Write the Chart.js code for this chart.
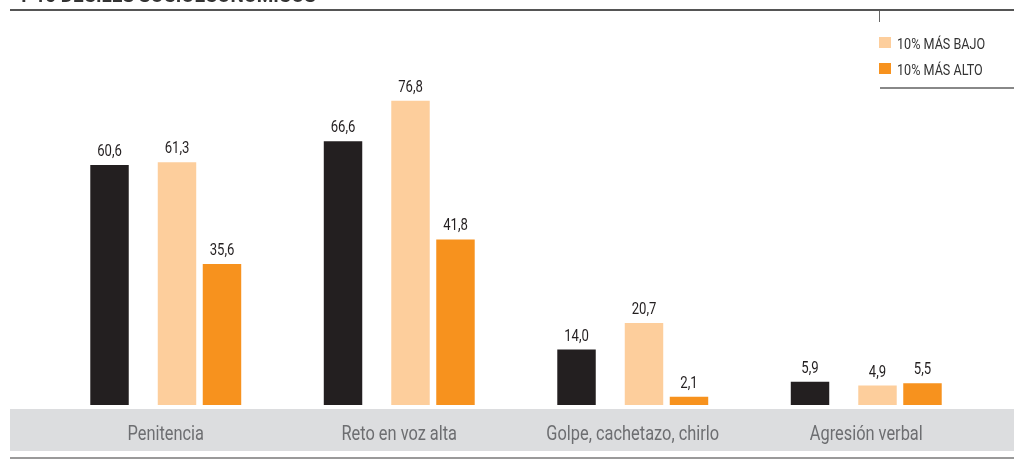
<!DOCTYPE html>
<html>
<head>
<meta charset="utf-8">
<script src="https://cdn.jsdelivr.net/npm/chart.js@4"></script>
<style>
  html, body { margin: 0; padding: 0; background: #fff; }
  #wrap { width: 1014px; height: 459px; position: relative; }
</style>
</head>
<body>
<div id="wrap"><canvas id="myChart" width="1014" height="459"></canvas></div>
<script>
// data
var categories = ['Penitencia', 'Reto en voz alta', 'Golpe, cachetazo, chirlo', 'Agresión verbal'];
var totalValues = [60.6, 66.6, 14.0, 5.9];
var bajoValues = [61.3, 76.8, 20.7, 4.9];
var altoValues = [35.6, 41.8, 2.1, 5.5];
var seriesLabels = ['TOTAL', '10% MÁS BAJO', '10% MÁS ALTO'];
var titleText = 'Y 10 DECILES SOCIOECONÓMICOS';

var colors = ['#231f20', '#fdce9c', '#f7921e'];
var FONT = 'Roboto, "Liberation Sans", sans-serif';
var empty = [null, null, null, null];

// the original uses a condensed face, so squeeze the text sideways
function narrowText(c, text, x, y, k) {
    c.save();
    c.translate(x, y);
    c.scale(k, 1);
    c.fillText(text, 0, 0);
    c.restore();
}

window.onload = function() {
    var framePlugin = {
        id: 'frame',
        beforeDraw: function(chart) {
            var c = chart.ctx;
            c.save();
            c.fillStyle = '#dcdddf';
            c.fillRect(10, 409, 1004, 42);
            c.fillStyle = '#555';
            c.fillRect(10, 9, 1004, 2);
            c.fillStyle = '#9a9a9a';
            c.fillRect(10, 457, 1004, 2);
            c.fillStyle = '#666';
            c.fillRect(879, 11, 1, 11);
            c.fillStyle = '#888';
            c.fillRect(880, 87, 134, 2);
            // cut off title
            c.fillStyle = '#333';
            c.font = 'bold 18px ' + FONT;
            c.textBaseline = 'alphabetic';
            c.textAlign = 'left';
            narrowText(c, titleText, 18, 2, 1.05);
            // legend (only the two decile series)
            c.font = '14px ' + FONT;
            [1, 2].forEach(function(s, i) {
                var y = 37 + i * 26;
                c.fillStyle = colors[s];
                c.fillRect(879, y, 12, 11);
                c.fillStyle = '#333';
                narrowText(c, seriesLabels[s], 897, y + 12, 0.9);
            });
            // category labels in the grey band
            var xs = chart.scales.x;
            c.font = '21px ' + FONT;
            c.fillStyle = '#6d6e71';
            c.textAlign = 'center';
            chart.data.labels.forEach(function(lab, i) {
                narrowText(c, lab, xs.getPixelForValue(i), 440, 0.78);
            });
            c.restore();
        },
        afterDatasetsDraw: function(chart) {
            var c = chart.ctx;
            c.save();
            c.font = '16px ' + FONT;
            c.fillStyle = '#231f20';
            c.textAlign = 'center';
            c.textBaseline = 'alphabetic';
            chart.data.datasets.forEach(function(ds, i) {
                if (!ds.label) return;
                chart.getDatasetMeta(i).data.forEach(function(bar, j) {
                    var v = ds.data[j];
                    if (v == null) return;
                    narrowText(c, v.toFixed(1).replace('.', ','), bar.x, bar.y - 9, 0.82);
                });
            });
            c.restore();
        }
    };

    var ctx = document.getElementById('myChart').getContext('2d');
    new Chart(ctx, {
        type: 'bar',
        data: {
            labels: categories,
            datasets: [
                { label: seriesLabels[0], data: totalValues, backgroundColor: colors[0] },
                { label: '', data: empty },
                { label: '', data: empty },
                { label: seriesLabels[1], data: bajoValues, backgroundColor: colors[1] },
                { label: '', data: empty },
                { label: seriesLabels[2], data: altoValues, backgroundColor: colors[2] }
            ]
        },
        options: {
            responsive: false,
            animation: false,
            layout: { padding: { left: 49, right: 31, top: 9, bottom: 0 } },
            datasets: { bar: { categoryPercentage: 0.578, barPercentage: 1.71, borderWidth: 0 } },
            plugins: {
                legend: { display: false },
                tooltip: { enabled: false }
            },
            scales: {
                x: {
                    grid: { display: false, drawTicks: false },
                    border: { display: false },
                    ticks: { display: false },
                    afterFit: function(s) { s.height = 54; }
                },
                y: { display: false, min: 0, max: 100 }
            }
        },
        plugins: [framePlugin]
    });
};
</script>
</body>
</html>
